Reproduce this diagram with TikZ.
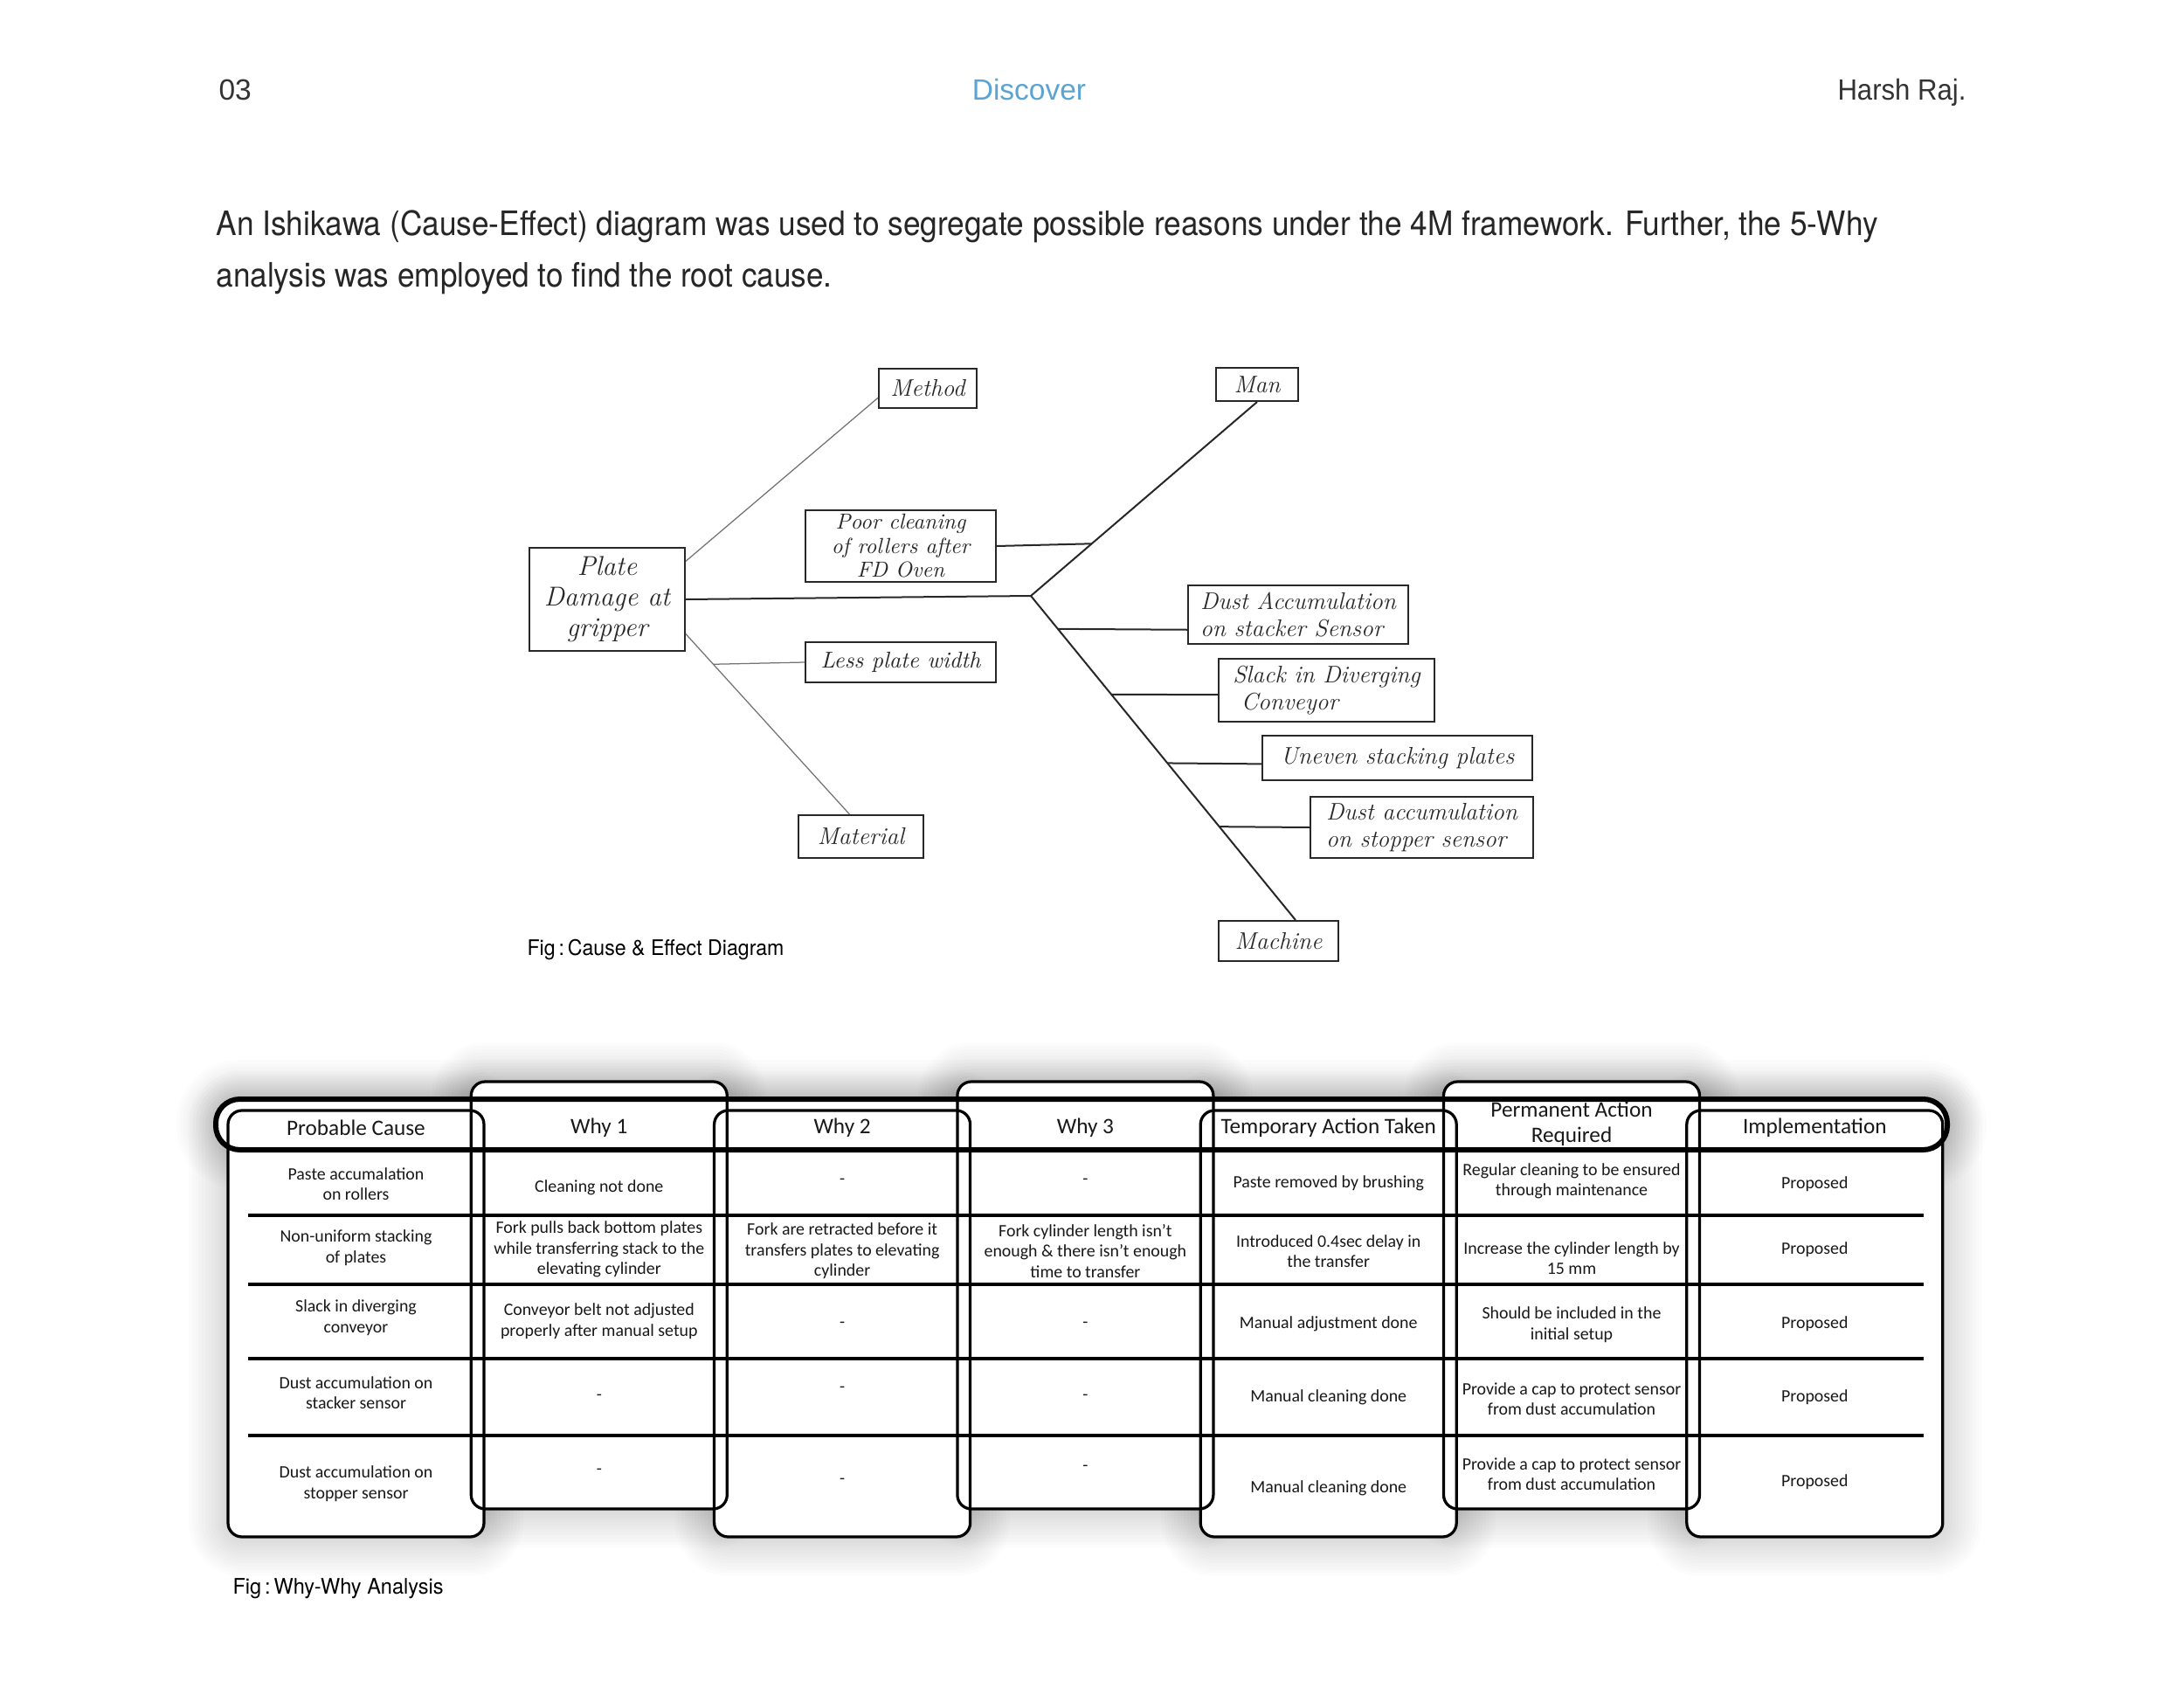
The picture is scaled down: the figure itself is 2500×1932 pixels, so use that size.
\documentclass[tikz,border=0pt]{standalone}
\usepackage{fontspec}
\usepackage{graphicx}
\newfontfamily\liber{Liberation Sans}
\newfontfamily\heros{TeX Gyre Heros}
\newfontfamily\tabfont{Carlito}
\usetikzlibrary{calc}
\definecolor{disc}{RGB}{90,164,212}
\definecolor{ink}{RGB}{40,40,40}
\tikzset{
  hbox/.style={draw=ink, line width=0.8pt, inner sep=0pt, text=ink, align=center,
               font=\rmfamily\itshape\fontsize{11}{12.5}\selectfont},
  bone/.style={draw=ink, line width=0.8pt},
  thinbone/.style={draw=black!55, line width=0.5pt},
  cell/.style={font=\tabfont\fontsize{7.95}{9.4}\selectfont, align=center, inner sep=0pt, text=black!90},
  hcell/.style={font=\tabfont\fontsize{10.1}{11.6}\selectfont, align=center, inner sep=0pt, text=black!90},
  plain/.style={inner sep=0pt},
  colframe/.style={rounded corners=6.4pt}
}
\newcommand\TabCols[1]{%
  \foreach \k in {0,2,4,6} {\path[colframe,#1] ({261+\k*278.3},1271) rectangle ++(293,488);}%
  \foreach \k in {1,3,5} {\path[colframe,#1] ({261+\k*278.3},1238) rectangle ++(293,489);}%
}
\begin{document}
\begin{tikzpicture}[x=0.4pt,y=-0.4pt]
\useasboundingbox (0,0) rectangle (2500,1932);
\fill[white] (0,0) rectangle (2500,1932);

% ---------- page header ----------
\node[plain, anchor=base west, text=black!80, font=\liber\fontsize{13.4}{16}\selectfont] (pgno) at (250,115) {03};
\node[plain, anchor=base, text=disc, font=\liber\fontsize{13.4}{16}\selectfont] (section) at (1178,115) {Discover};
\node[plain, anchor=base east, text=black!80, font=\liber\fontsize{13.4}{16}\selectfont] (author) at (2251,115) {\resizebox{58.8pt}{\height}{Harsh Raj.}};

% ---------- paragraph ----------
\node[plain, anchor=base west, text=black!85, font=\heros\fontsize{15.4}{18}\selectfont] (para1) at (247,270)
  {\resizebox{760.8pt}{\height}{An Ishikawa (Cause-Effect) diagram was used to segregate possible reasons under the 4M framework. Further, the 5-Why}};
\node[plain, anchor=base west, text=black!85, font=\heros\fontsize{15.4}{18}\selectfont] (para2) at (247,328)
  {\resizebox{282pt}{\height}{analysis was employed to find the root cause.}};

% ---------- fishbone boxes ----------
\node[hbox, minimum width=71.2pt, minimum height=47.2pt, font=\rmfamily\itshape\fontsize{12.5}{14}\selectfont] (plate) at (695,686) {Plate\\Damage at\\gripper};
\node[hbox, minimum width=44.8pt, minimum height=18pt] (method) at (1062,444.5) {Method};
\node[hbox, minimum width=37.6pt, minimum height=15.2pt] (man) at (1439,440) {Man};
\node[hbox, minimum width=87.2pt, minimum height=32.8pt, font=\rmfamily\itshape\fontsize{10}{11}\selectfont] (poor) at (1031,625) {Poor cleaning\\of rollers after\\FD Oven};
\node[hbox, minimum width=87.2pt, minimum height=18.4pt, font=\rmfamily\itshape\fontsize{10.5}{12}\selectfont] (less) at (1031,758) {Less plate width};
\node[hbox, minimum width=57.2pt, minimum height=19.6pt] (material) at (985.5,957.5) {Material};
\node[hbox, minimum width=54.8pt, minimum height=18.4pt] (machine) at (1463.5,1077) {Machine};
\node[hbox, minimum width=100.8pt, minimum height=26.8pt, align=left] (dust1) at (1486,703.5) {Dust Accumulation\\on stacker Sensor};
\node[hbox, minimum width=98.8pt, minimum height=28.8pt, align=left] (slack) at (1518.5,790) {Slack in Diverging\\\ Conveyor};
\node[hbox, minimum width=123.6pt, minimum height=20.4pt] (uneven) at (1599.5,867.5) {Uneven stacking plates};
\node[hbox, minimum width=102pt, minimum height=28pt, align=left] (dust2) at (1627.5,947) {Dust accumulation\\on stopper sensor};

% ---------- fishbone lines ----------
\coordinate (J) at (1180,682);
\draw[bone] (plate.east) -- (J);
\draw[thinbone] ($(plate.north east)!0.136!(plate.south east)$) -- ($(method.south west)!0.27!(method.north west)$);
\coordinate (matA) at ($(plate.north east)!0.83!(plate.south east)$);
\coordinate (matB) at ($(material.north west)!0.41!(material.north east)$);
\draw[thinbone] (matA) -- (matB);
\draw[bone] (J) -- (man.south);
\coordinate (machT) at ($(machine.north west)!0.64!(machine.north east)$);
\draw[bone] (J) -- (machT);
\draw[bone] (poor.east) -- ($(J)!0.269!(man.south)$);
\draw[thinbone] ($(matA)!0.168!(matB)$) -- (less.west);
\draw[bone] ($(J)!0.102!(machT)$) -- ($(dust1.north west)!0.75!(dust1.south west)$);
\draw[bone] ($(J)!0.304!(machT)$) -- ($(slack.north west)!0.57!(slack.south west)$);
\draw[bone] ($(J)!0.516!(machT)$) -- ($(uneven.north west)!0.63!(uneven.south west)$);
\draw[bone] ($(J)!0.712!(machT)$) -- (dust2.west);

\node[plain, anchor=base west, text=black, font=\heros\fontsize{9.8}{12}\selectfont] (cap1) at (603,1093)
  {\resizebox{117.6pt}{\height}{Fig\,:\,Cause \& Effect Diagram}};

% ---------- why-why table ----------
% soft glow
\foreach \w in {3,6,...,36} {
  \TabCols{draw=black, draw opacity=0.012, line width=\w pt}
  \path[draw=black, draw opacity=0.012, line width=\w pt, rounded corners=11pt] (247,1258) rectangle (2229,1316);
}
\TabCols{fill=white}
\path[fill=white, rounded corners=11pt] (247,1258) rectangle (2229,1316);
% rows
\foreach \yy in {1391,1470,1555,1643} {\draw[black, line width=1.4pt] (284,\yy) -- (2202,\yy);}
\TabCols{draw=black, line width=1.3pt}
\draw[black, line width=2.4pt, rounded corners=11pt] (247,1258) rectangle (2229,1316);

% header texts
\node[hcell] (h1) at (407.5,1291) {Probable Cause};
\node[hcell] (h2) at (685.8,1291) {Why 1};
\node[hcell] (h3) at (964.1,1291) {Why 2};
\node[hcell] (h4) at (1242.4,1291) {Why 3};
\node[hcell] (h5) at (1520.7,1291) {Temporary Action Taken};
\node[hcell] (h6) at (1799,1286) {Permanent Action\\Required};
\node[hcell] (h7) at (2077.3,1291) {Implementation};

% row 1
\node[cell] (r1c1) at (407.5,1355) {Paste accumalation\\on rollers};
\node[cell] (r1c2) at (685.8,1359) {Cleaning not done};
\node[cell] (r1c3) at (964.1,1352) {-};
\node[cell] (r1c4) at (1242.4,1352) {-};
\node[cell] (r1c5) at (1520.7,1354) {Paste removed by brushing};
\node[cell] (r1c6) at (1799,1352) {Regular cleaning to be ensured\\through maintenance};
\node[cell] (r1c7) at (2077.3,1355) {Proposed};
% row 2
\node[cell] (r2c1) at (407.5,1428) {Non-uniform stacking\\of plates};
\node[cell] (r2c2) at (685.8,1430) {Fork pulls back bottom plates\\while transferring stack to the\\elevating cylinder};
\node[cell] (r2c3) at (964.1,1432) {Fork are retracted before it\\transfers plates to elevating\\cylinder};
\node[cell] (r2c4) at (1242.4,1432) {Fork cylinder length isn’t\\enough \& there isn’t enough\\time to transfer};
\node[cell] (r2c5) at (1520.7,1432) {Introduced 0.4sec delay in\\the transfer};
\node[cell] (r2c6) at (1799,1440) {Increase the cylinder length by\\15 mm};
\node[cell] (r2c7) at (2077.3,1430) {Proposed};
% row 3
\node[cell] (r3c1) at (407.5,1508) {Slack in diverging\\conveyor};
\node[cell] (r3c2) at (685.8,1512) {Conveyor belt not adjusted\\properly after manual setup};
\node[cell] (r3c3) at (964.1,1516) {-};
\node[cell] (r3c4) at (1242.4,1516) {-};
\node[cell] (r3c5) at (1520.7,1515) {Manual adjustment done};
\node[cell] (r3c6) at (1799,1516) {Should be included in the\\initial setup};
\node[cell] (r3c7) at (2077.3,1515) {Proposed};
% row 4
\node[cell] (r4c1) at (407.5,1594) {Dust accumulation on\\stacker sensor};
\node[cell] (r4c2) at (685.8,1599) {-};
\node[cell] (r4c3) at (964.1,1590) {-};
\node[cell] (r4c4) at (1242.4,1599) {-};
\node[cell] (r4c5) at (1520.7,1599) {Manual cleaning done};
\node[cell] (r4c6) at (1799,1601) {Provide a cap to protect sensor\\from dust accumulation};
\node[cell] (r4c7) at (2077.3,1599) {Proposed};
% row 5
\node[cell] (r5c1) at (407.5,1698) {Dust accumulation on\\stopper sensor};
\node[cell] (r5c2) at (685.8,1684) {-};
\node[cell] (r5c3) at (964.1,1695) {-};
\node[cell] (r5c4) at (1242.4,1680) {-};
\node[cell] (r5c5) at (1520.7,1703) {Manual cleaning done};
\node[cell] (r5c6) at (1799,1687) {Provide a cap to protect sensor\\from dust accumulation};
\node[cell] (r5c7) at (2077.3,1696) {Proposed};

\node[plain, anchor=base west, text=black, font=\heros\fontsize{9.8}{12}\selectfont] (cap2) at (266,1824)
  {\resizebox{96.4pt}{\height}{Fig\,:\,Why-Why Analysis}};
\end{tikzpicture}
\end{document}
